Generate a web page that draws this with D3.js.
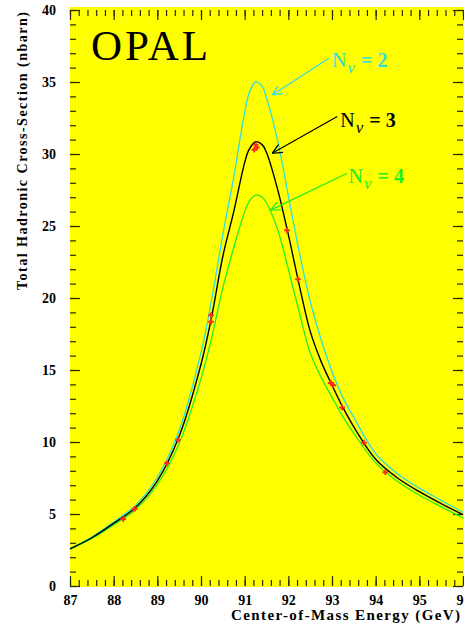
<!DOCTYPE html>
<html>
<head>
<meta charset="utf-8">
<script src="https://cdn.jsdelivr.net/npm/d3@7"></script>
<style>
body{margin:0;background:#fff}
svg{display:block}
</style>
</head>
<body>
<div id="chart"></div>
<script>
// curve values (nb) at these energies (GeV)
var energies = [87, 87.5, 88, 88.5, 89, 89.5, 90, 90.25, 90.5, 90.75, 91, 91.1, 91.25, 91.4, 91.5, 91.75, 92, 92.25, 92.5, 92.75, 93, 93.25, 93.5, 94, 94.5, 95, 95.5, 96];
var sigmaN2 = [2.6, 3.4, 4.45, 5.6, 7.55, 10.8, 16.2, 20.0, 24.4, 28.4, 32.9, 34.2, 35.0, 34.7, 33.9, 31.0, 27.1, 23.2, 19.8, 17.1, 14.9, 13.1, 11.7, 9.2, 7.8, 6.8, 5.95, 5.12];
var sigmaN3 = [2.57, 3.35, 4.35, 5.45, 7.3, 10.4, 15.4, 18.8, 22.9, 26.0, 29.4, 30.3, 30.85, 30.65, 30.1, 27.6, 24.4, 20.9, 17.7, 15.6, 13.95, 12.4, 11.05, 8.8, 7.5, 6.55, 5.72, 4.95];
var sigmaN4 = [2.55, 3.3, 4.25, 5.3, 7.05, 9.9, 14.4, 17.3, 20.7, 23.5, 26.0, 26.7, 27.15, 27.0, 26.6, 24.8, 22.0, 19.0, 16.2, 14.5, 13.1, 11.75, 10.6, 8.55, 7.25, 6.3, 5.5, 4.72];

// OPAL measurements
var dataE = [88.22, 88.48, 89.22, 89.47, 90.23, 90.23, 91.22, 91.25, 91.28, 91.97, 92.22, 92.97, 93.03, 93.23, 93.73, 94.22];
var dataSigma = [4.65, 5.35, 8.52, 10.14, 18.8, 18.35, 30.3, 30.65, 30.45, 24.7, 21.3, 14.1, 13.95, 12.4, 9.95, 7.9];

var xTicks = [87, 88, 89, 90, 91, 92, 93, 94, 95, 96];
var yTicks = [0, 5, 10, 15, 20, 25, 30, 35, 40];

var curveNames = ["2", "4", "3"];
var curveColors = ["#30dede", "#22ee22", "#000000"];
// label anchor and arrow ends, in data units (GeV, nb)
var labelE = [93.0, 93.38, 93.19];
var labelS = [36.06, 27.99, 31.87];
var arrowFromE = [92.93, 93.35, 93.12];
var arrowFromS = [36.65, 28.66, 32.6];
var arrowToE = [91.63, 91.59, 91.63];
var arrowToS = [34.1, 26.1, 30.05];

var width = 464, height = 630;
var serif = "'Liberation Serif','DejaVu Serif',serif";

var svg = d3.select("#chart").append("svg")
    .attr("width", width)
    .attr("height", height);

var x = d3.scaleLinear().domain([87, 96]).range([70, 463]);
var y = d3.scaleLinear().domain([0, 40]).range([586, 10]);

svg.append("rect")
    .attr("x", 70)
    .attr("y", 7)
    .attr("width", width - 70)
    .attr("height", 580)
    .attr("fill", "#ffff00");

function styleAxis(g){
    g.select(".domain").remove();
    g.selectAll("line").attr("stroke", "#2a2a00").attr("stroke-width", 1.2);
    g.attr("font-family", serif).attr("font-size", 14).attr("font-weight", "bold");
    g.selectAll("text").attr("fill", "#000");
}

var xMinor = d3.range(87, 96.01, 0.2);
var yMinor = d3.range(0, 40.01, 1);

// bottom
svg.append("g").attr("transform", "translate(0," + y(0) + ")")
    .call(d3.axisBottom(x).tickValues(xMinor).tickSize(-6).tickFormat(""))
    .call(styleAxis);
svg.append("g").attr("transform", "translate(0," + y(0) + ")")
    .call(d3.axisBottom(x).tickValues(xTicks).tickSize(-10).tickPadding(9).tickFormat(d3.format("d")))
    .call(styleAxis);
// top
svg.append("g").attr("transform", "translate(0," + y(40) + ")")
    .call(d3.axisTop(x).tickValues(xMinor).tickSize(-6).tickFormat(""))
    .call(styleAxis);
svg.append("g").attr("transform", "translate(0," + y(40) + ")")
    .call(d3.axisTop(x).tickValues(xTicks).tickSize(-10).tickFormat(""))
    .call(styleAxis);
// left
svg.append("g").attr("transform", "translate(" + x(87) + ",0)")
    .call(d3.axisLeft(y).tickValues(yMinor).tickSize(-6).tickFormat(""))
    .call(styleAxis);
svg.append("g").attr("transform", "translate(" + x(87) + ",0)")
    .call(d3.axisLeft(y).tickValues(yTicks).tickSize(-10).tickPadding(14).tickFormat(d3.format("d")))
    .call(styleAxis);
// right
svg.append("g").attr("transform", "translate(" + x(96) + ",0)")
    .call(d3.axisRight(y).tickValues(yMinor).tickSize(-6).tickFormat(""))
    .call(styleAxis);
svg.append("g").attr("transform", "translate(" + x(96) + ",0)")
    .call(d3.axisRight(y).tickValues(yTicks).tickSize(-10).tickFormat(""))
    .call(styleAxis);

// curves
var line = d3.line()
    .x(function(d){ return x(d[0]); })
    .y(function(d){ return y(d[1]); })
    .curve(d3.curveCatmullRom.alpha(0.5));

var series = [sigmaN2, sigmaN4, sigmaN3];
for(var i = 0; i < series.length; i++){
    var pts = energies.map(function(e, j){ return [e, series[i][j]]; });
    svg.append("path")
        .datum(pts)
        .attr("d", line)
        .attr("fill", "none")
        .attr("stroke", curveColors[i])
        .attr("stroke-width", i == 2 ? 1.4 : 1.3);
}

// data points
svg.append("g").selectAll("path")
    .data(dataE.map(function(e, j){ return [e, dataSigma[j]]; }))
    .join("path")
    .attr("transform", function(d){ return "translate(" + x(d[0]) + "," + y(d[1]) + ")"; })
    .attr("d", d3.symbol(d3.symbolCross).size(18))
    .attr("fill", "#ff2a1a");

// arrow markers
var defs = svg.append("defs");
for(var i = 0; i < curveNames.length; i++){
    defs.append("marker")
        .attr("id", "arr" + i)
        .attr("viewBox", "0 0 10 10")
        .attr("refX", 10)
        .attr("refY", 5)
        .attr("markerWidth", 10)
        .attr("markerHeight", 10)
        .attr("markerUnits", "userSpaceOnUse")
        .attr("orient", "auto")
        .append("path")
        .attr("d", "M0,0.5 L10,5 L0,9.5")
        .attr("fill", "none")
        .attr("stroke", curveColors[i])
        .attr("stroke-width", 1.3);
}

for(var i = 0; i < curveNames.length; i++){
    svg.append("line")
        .attr("x1", x(arrowFromE[i]))
        .attr("y1", y(arrowFromS[i]))
        .attr("x2", x(arrowToE[i]))
        .attr("y2", y(arrowToS[i]))
        .attr("stroke", curveColors[i])
        .attr("stroke-width", 1.2)
        .attr("marker-end", "url(#arr" + i + ")");

    var t = svg.append("text")
        .attr("x", x(labelE[i]))
        .attr("y", y(labelS[i]))
        .attr("font-family", serif)
        .attr("font-size", 20)
        .attr("fill", curveColors[i]);
    t.append("tspan").text("N");
    t.append("tspan").attr("dy", 6).attr("dx", 1).attr("font-size", 17).attr("font-style", "italic").text("\u03bd");
    t.append("tspan").attr("dy", -6).attr("dx", 6).attr("font-weight", "bold").text("= " + curveNames[i]);
}

// OPAL
svg.append("text")
    .attr("x", 91)
    .attr("y", 60)
    .attr("font-family", serif)
    .attr("font-size", 43)
    .attr("textLength", 117)
    .attr("lengthAdjust", "spacing")
    .text("OPAL");

// axis titles
svg.append("text")
    .attr("x", 231)
    .attr("y", 620)
    .attr("font-family", serif)
    .attr("font-weight", "bold")
    .attr("font-size", 15)
    .attr("textLength", 229)
    .attr("lengthAdjust", "spacing")
    .text("Center-of-Mass Energy (GeV)");

svg.append("text")
    .attr("transform", "translate(27,151) rotate(-90)")
    .attr("text-anchor", "middle")
    .attr("font-family", serif)
    .attr("font-weight", "bold")
    .attr("font-size", 14)
    .attr("textLength", 278)
    .attr("lengthAdjust", "spacing")
    .text("Total Hadronic Cross-Section (nbarn)");
</script>
</body>
</html>
